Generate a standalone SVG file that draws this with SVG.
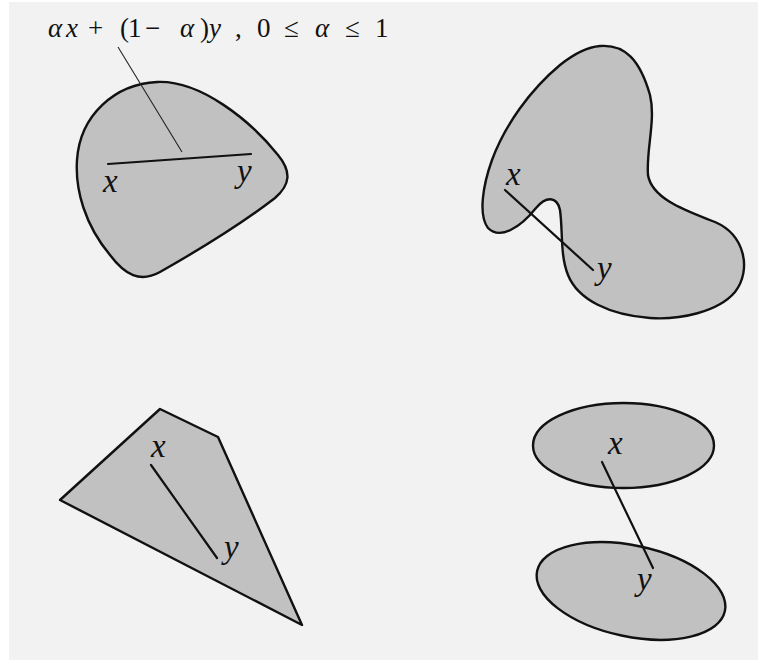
<svg xmlns="http://www.w3.org/2000/svg" width="758" height="660" viewBox="0 0 758 660">
<style>
.shape{fill:#c1c1c1;stroke:#111;stroke-width:2.4;stroke-linejoin:round}
.seg{stroke:#111;stroke-width:2.2;fill:none;stroke-linecap:round}
.thin{stroke:#222;stroke-width:1.1;fill:none}
.lbl{font-family:'Liberation Serif','DejaVu Serif',serif;font-style:italic;font-size:33px;fill:#111}
.f{font-family:'Liberation Serif','DejaVu Serif',serif;font-size:27px;fill:#111}
.i{font-style:italic}
</style>
<rect x="0" y="0" width="758" height="660" fill="#ffffff"/>
<rect x="9" y="2" width="749" height="658" fill="#f2f2f2"/>

<g id="convex-blob">
<path class="shape" d="M157,82 C200,80 250,120 278,155 C292,172 290,185 275,198 C240,225 190,255 160,272 C140,283 125,275 110,255 C85,225 75,190 77,160 C80,115 115,84 157,82 Z"/>
<text class="lbl" x="103" y="192">x</text>
<text class="lbl" x="237" y="182">y</text>
</g>

<g id="nonconvex-blob">
<path class="shape" d="M600,46 C625,44 640,60 650,95 C656,120 646,150 648,175 C652,200 690,212 715,222 C745,235 752,270 735,292 C718,312 680,320 650,318 C610,315 578,300 568,275 C560,255 563,232 560,210 C557,196 546,196 536,208 C520,228 500,240 488,228 C478,215 483,185 492,160 C505,125 530,90 560,65 C575,53 588,47 600,46 Z"/>
<text class="lbl" x="506" y="185">x</text>
<text class="lbl" x="597" y="279">y</text>
</g>

<g id="polygon">
<polygon class="shape" points="60,500 160,409 218,437 302,625"/>
<text class="lbl" x="151" y="457">x</text>
<text class="lbl" x="224" y="558">y</text>
</g>

<g id="ellipses">
<ellipse class="shape" cx="623.5" cy="445.5" rx="90.5" ry="42.5"/>
<ellipse class="shape" cx="631" cy="591" rx="96" ry="45.5" transform="rotate(12 631 591)"/>
<text class="lbl" x="608" y="454">x</text>
<text class="lbl" x="637" y="590">y</text>
</g>

<g id="formula">
<text class="f" y="37"><tspan class="i" x="48">α</tspan><tspan class="i" x="66">x</tspan><tspan x="88">+</tspan><tspan x="120">(</tspan><tspan x="128">1</tspan><tspan x="145">−</tspan><tspan class="i" x="180">α</tspan><tspan x="200">)</tspan><tspan class="i" x="209">y</tspan><tspan x="235">,</tspan><tspan x="257">0</tspan><tspan x="284">≤</tspan><tspan class="i" x="315">α</tspan><tspan x="345">≤</tspan><tspan x="375">1</tspan></text>
</g>

<g id="connectors">
<line class="thin" x1="118" y1="47" x2="182" y2="152"/>
<line class="seg" x1="108" y1="164" x2="251" y2="154"/>
<line class="seg" x1="505" y1="190" x2="593" y2="270"/>
<line class="seg" x1="151" y1="465" x2="217" y2="558"/>
<line class="seg" x1="602" y1="462" x2="653" y2="568"/>
</g>
</svg>
